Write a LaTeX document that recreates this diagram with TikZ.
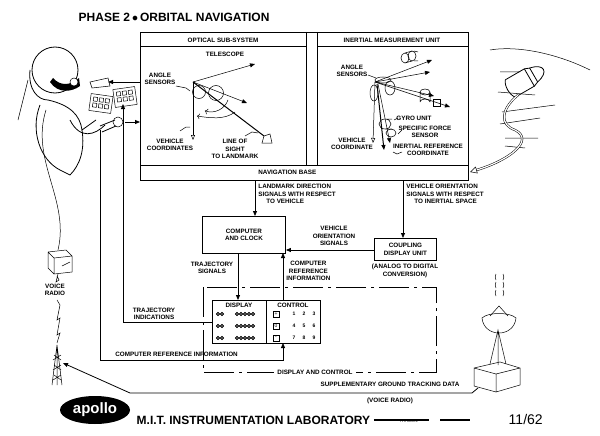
\documentclass[tikz,border=0pt]{standalone}
\usepackage{fontspec}
\setmainfont{Liberation Sans}
\usetikzlibrary{arrows.meta,calc,shapes.geometric}
\begin{document}
\begin{tikzpicture}[x=1pt,y=-1pt,line width=0.8pt,
  lbl/.style={font=\fontsize{6.3}{7.3}\selectfont\bfseries,inner sep=0pt,align=center},
  lbll/.style={lbl,align=left,anchor=north west},
  boxn/.style={draw,line width=0.9pt,inner sep=0pt},
  arr/.style={-{Triangle[length=5pt,width=4pt]}},
  thin/.style={line width=0.5pt}]
\useasboundingbox (0,0) rectangle (600,436);
\fill[white] (0,0) rectangle (600,436);
% title
\node[font=\fontsize{12}{14}\selectfont\bfseries,anchor=west] (title) at (75,17) {PHASE 2\,$\bullet$\,ORBITAL NAVIGATION};
% outer frame
\draw[line width=0.9pt] (140,32) rectangle (468,180);
\draw[line width=0.9pt] (140,165) -- (468,165);
\draw[line width=0.9pt] (140,46) -- (306,46) (317,46) -- (468,46);
\draw[line width=0.9pt] (306,32) -- (306,165) (317,32) -- (317,165);
\node[lbl] (osys) at (223,40) {OPTICAL SUB-SYSTEM};
\node[lbl] (imu) at (392,40) {INERTIAL MEASUREMENT UNIT};
\node[lbl,anchor=west] (nb) at (258,172.5) {NAVIGATION BASE};
\coordinate (ld) at (255,180);
\coordinate (vo) at (403,180);
% optical content
\node[lbl] (tel) at (225,54) {TELESCOPE};
\coordinate (op) at (193,82);
\draw[thin,arr] (op) -- (255,64);
\draw[thin,arr] (op) -- (247,103);
\draw[line width=1pt] (op) -- (264,136);
\draw[thin] (264,136) -- (262,143) -- (272,143) -- (270,134) -- cycle;
\draw[thin,-{Triangle[open,length=5pt,width=4pt]}] (op) -- (193,140);
\draw[thin] (199,92) circle (6.5);
\draw[thin] (216,93) circle (7.5);
\draw[thin,->] (228,100) arc (20:110:18);
\draw[thin,->] (235,112) .. controls (225,120) and (210,118) .. (197,116);
\node[lbl] (as1) at (160,79) {ANGLE\\SENSORS};
\draw[thin] (176,86) -- (186,88) -- (190,91);
\node[lbl] (vc1) at (170,144.5) {VEHICLE\\COORDINATES};
\draw[thin] (180,131) -- (186,127) -- (190,127);
\node[lbl] (los) at (235,149) {LINE OF\\SIGHT\\TO LANDMARK};
\draw[thin] (245,136) -- (252,132) -- (258,133);
% IMU content
\coordinate (ip) at (375,82);
\draw[thin,arr] (ip) -- (432,60);
\draw[thin,arr] (ip) -- (434,96);
\draw[thin,arr] (ip) -- (450,107);
\draw[thin,arr] (ip) -- (430,72);
\draw[thin,-{Triangle[open,length=5pt,width=4pt]}] (ip) -- (373,143);
\draw[line width=1pt,arr] (377,84) -- (384,150);
\draw[thin,arr] (378,84) -- (390,143);
\draw[thin] (383,80) ellipse (8 and 3);
\draw[thin] (374,93) ellipse (4 and 8);
\draw[thin] (390,88) ellipse (5 and 7);
\draw[thin] (405,58) ellipse (4 and 5) (405,53) -- (412,51) (405,63) -- (412,61);
\draw[thin] (412,56) ellipse (4 and 5) (414,51) -- (418,52) (414,61) -- (418,61);
\draw[thin] (425,92) ellipse (5 and 3) (420,92) -- (420,102) (430,92) -- (430,102) (420,102) arc (180:360:5 and 3);
\draw[thin] (433,99) rectangle (440,106);
\draw[thin] (385,124) ellipse (6 and 5) (385,119) -- (392,119) (385,129) -- (392,129);
\draw[thin] (391,133) ellipse (5 and 4);
\node[lbl] (as2) at (352,71) {ANGLE\\SENSORS};
\draw[thin] (368,75) -- (376,78);
\node[lbl,anchor=west] (gy) at (396,118) {GYRO UNIT};
\draw[thin] (394,120) -- (398,118);
\node[lbl] (sf) at (425,132) {SPECIFIC FORCE\\SENSOR};
\draw[thin] (398,134) -- (402,130);
\node[lbl] (vc2) at (352,144) {VEHICLE\\COORDINATE};
\node[lbl] (ir) at (428,150) {INERTIAL REFERENCE\\COORDINATE};
\draw[thin] (393,152) -- (397,154) -- (402,152);
% computer & coupling
\node[boxn,minimum width=83pt,minimum height=37pt,lbl,anchor=north west] (comp) at (202,216) {};
\node[lbl] at (comp.center) {COMPUTER\\AND CLOCK};
\node[boxn,minimum width=62pt,minimum height=22pt,anchor=north west] (coup) at (374,238) {};
\node[lbl] at (coup.center) {COUPLING\\DISPLAY UNIT};
\node[lbl] (a2d) at (405,271) {(ANALOG TO DIGITAL\\CONVERSION)};
\draw[arr] (ld) -- (ld |- comp.north);
\node[lbl,anchor=north west,align=left] (ldl) at (258,184) {LANDMARK DIRECTION\\SIGNALS WITH RESPECT\\\hspace*{8pt}TO VEHICLE};
\draw[arr] (vo) -- (vo |- coup.north);
\node[lbl,anchor=north west,align=left] (vol) at (406,184) {VEHICLE ORIENTATION\\SIGNALS WITH RESPECT\\\hspace*{8pt}TO INERTIAL SPACE};
\draw[arr] (coup.west |- 0,250) -- (comp.east |- 0,250);
\node[lbl] (vos) at (334,236) {VEHICLE\\ORIENTATION\\SIGNALS};
% display & control
\draw[dash pattern=on 30pt off 5pt on 3pt off 5pt,line width=0.7pt] (203,287) rectangle (436,372);
\node[lbl,fill=white,inner xsep=3pt] (dac) at (315,372) {DISPLAY AND CONTROL};
\node[boxn,minimum width=108pt,minimum height=43pt,anchor=north west] (pan) at (212,300) {};
\draw[line width=0.8pt] (266,300) -- (266,343);
\node[lbl] (dsp) at (239,305.5) {DISPLAY};
\node[lbl] (ctl) at (293,305.5) {CONTROL};
\foreach \y in {314,326,338}{
  \foreach \x in {218,222}{\draw[thin,fill=black!60] (\x,\y) circle (1.8);}
  \foreach \x in {237,241,245,249,253}{\draw[thin,fill=black!60] (\x,\y) circle (1.8);}
}
\foreach \y/\s [count=\i] in {314/+,326/0,338/-}{
  \node[draw,thin,minimum size=6pt,inner sep=0pt,font=\fontsize{5}{5}\selectfont] at (276,\y) {\s};
}
\foreach \y/\a/\b/\c in {314/1/2/3,326/4/5/6,338/7/8/9}{
  \node[font=\fontsize{5}{5}\selectfont\bfseries] at (294,\y) {\a};
  \node[font=\fontsize{5}{5}\selectfont\bfseries] at (304,\y) {\b};
  \node[font=\fontsize{5}{5}\selectfont\bfseries] at (314,\y) {\c};
}
\draw[arr] (238,253) -- (238,300);
\node[lbl] (ts) at (212,268) {TRAJECTORY\\SIGNALS};
\draw[arr] (283,300) -- (283,253);
\node[lbl,anchor=north west,align=center] (cri) at (286,261) {COMPUTER\\REFERENCE\\INFORMATION};
% left connections
\coordinate (pnl) at (123,104);
\draw[arr] (pan.west |- 0,322) -- (123,322) -- (pnl);
\node[lbl] (ti) at (154,314) {TRAJECTORY\\INDICATIONS};
\coordinate (hand) at (100,130);
\draw[arr] (hand) -- (100,360) -- (283,360) -- (283,343);
\node[lbl,anchor=west] (crl) at (115,354) {COMPUTER REFERENCE INFORMATION};
\coordinate (dev) at (125,122);
\draw[arr] (dev) -- (140,122);
\coordinate (eye) at (108,82);
\draw[arr] (140,82) -- (eye);
% astronaut
\draw[line width=0.8pt] (55,70) circle (23);
\fill[black] (50,82) .. controls (58,94) and (72,92) .. (80,86) -- (79,78) .. controls (70,86) and (60,86) .. (53,78) -- cycle;
\draw[thin,fill=white] (74,82) circle (4);
\draw (30,70) .. controls (28,90) and (38,100) .. (48,100);
\draw (48,100) .. controls (70,105) and (80,115) .. (82,130) -- (96,120);
\draw (40,105) .. controls (30,130) and (40,160) .. (60,170) -- (70,175);
\draw (82,130) .. controls (85,150) and (80,165) .. (70,175);
\draw (70,120) .. controls (80,140) and (95,135) .. (105,125);
\draw (100,126) -- (115,120) (102,132) -- (116,126);
\draw[thin] (28,80) -- (18,120);
\draw[thin] (90,82) -- (108,78) -- (110,86) -- (92,88) -- cycle;
\draw[thin] (118,122) circle (5);
\draw[thin] (46,110) .. controls (30,160) and (70,200) .. (58,250);
% keypads
\begin{scope}[rotate around={-8:(101,103)}]
\draw[thin] (90,95) rectangle (112,112);
\foreach \i in {0,1,2}{\foreach \j in {0,1}{\draw[thin] (93+6*\i,98+6*\j) rectangle (97+6*\i,102+6*\j);}}
\end{scope}
\begin{scope}[rotate around={8:(125,97)}]
\draw[thin] (114,88) rectangle (136,106);
\foreach \i in {0,1,2}{\foreach \j in {0,1}{\draw[thin] (117+6*\i,91+6*\j) rectangle (121+6*\i,95+6*\j);}}
\end{scope}
% voice radio box
\draw[thin] (48,252) -- (66,250) -- (72,256) -- (72,272) -- (54,274) -- (48,268) -- cycle (48,252) -- (54,258) -- (72,256) (54,258) -- (54,274);
\draw[thin] (62,266) -- (70,262);
\draw[thin] (58,274) -- (56,282) -- (59,280) -- (57,276);
\draw[thin] (57,300) -- (60,305) -- (57,320) -- (60,318) -- (57,335) -- (60,333) -- (57,343);
\node[lbl] (vr) at (55,290) {VOICE\\RADIO};
% tower
\coordinate (tw) at (63,363);
\draw[thin] (57,345) -- (52,385) (57,345) -- (62,385) (57,345) -- (57,385);
\foreach \y in {355,365,375}{\draw[thin] (54,\y) -- (61,\y+5) (61,\y) -- (53,\y+5);}
% ground station
\draw[thin] (474,368) -- (500,362) -- (520,368) -- (520,385) -- (496,392) -- (474,386) -- cycle (474,368) -- (496,374) -- (520,368) (496,374) -- (496,392);
\draw[thin] (490,364) -- (498,330) -- (506,364) (498,330) -- (498,365);
\draw[thin] (482,318) .. controls (484,338) and (514,338) .. (516,318) .. controls (510,312) and (488,312) .. (482,318) -- cycle;
\draw[thin] (490,316) -- (499,306) -- (508,316);
\foreach \y in {280,288,296}{\draw[thin] (496,\y) arc (150:210:6) (503,\y) arc (30:-30:6);}
\coordinate (gs) at (478,388);
\draw[arr] (gs) -- (472,393) -- (130,393) -- (tw);
\node[lbl] (sg) at (390,384) {SUPPLEMENTARY GROUND TRACKING DATA};
\node[lbl] (vr2) at (390,401) {(VOICE RADIO)};
% spacecraft
\begin{scope}[rotate around={30:(525,80)}]
\draw (508,70) -- (530,70) -- (530,90) -- (508,90) .. controls (504,85) and (504,75) .. (508,70);
\draw (530,70) -- (535,72) -- (535,88) -- (530,90);
\draw (535,72) .. controls (550,75) and (550,85) .. (535,88);
\end{scope}
\draw[thin] (490,50) .. controls (520,45) and (560,55) .. (590,70);
\draw[thin] (500,72) -- (520,72) (498,92) -- (535,95) (502,112) -- (555,105) (500,124) -- (540,118) (505,138) -- (538,138) (505,146) -- (525,148);
\coordinate (sc) at (518,95);
\draw[thin,double,double distance=1.2pt,-{Triangle[open,length=7pt,width=7pt]}] (sc) .. controls (500,110) and (500,125) .. (515,130) .. controls (535,140) and (510,160) .. (470,172);
% bottom banner
\node[ellipse,fill=black,minimum width=70pt,minimum height=28pt,inner sep=0pt] (ap) at (95,410) {};
\node[text=white,font=\fontsize{15}{15}\selectfont\bfseries] at (ap.center) {apollo};
\node[font=\fontsize{12}{14}\selectfont\bfseries,anchor=west] (mit) at (133,420) {M.I.T. INSTRUMENTATION LABORATORY};
\draw[line width=1.6pt] (mit.east) -- ++(55,0);
\node[font=\fontsize{3.5}{4}\selectfont,anchor=west] (tp) at (396,421) {TP\# 6613-2};
\draw[line width=1.6pt] (440,420) -- (470,420);
\node[font=\fontsize{14}{16}\selectfont,anchor=west] (dt) at (505,419) {11/62};
\end{tikzpicture}
\end{document}
